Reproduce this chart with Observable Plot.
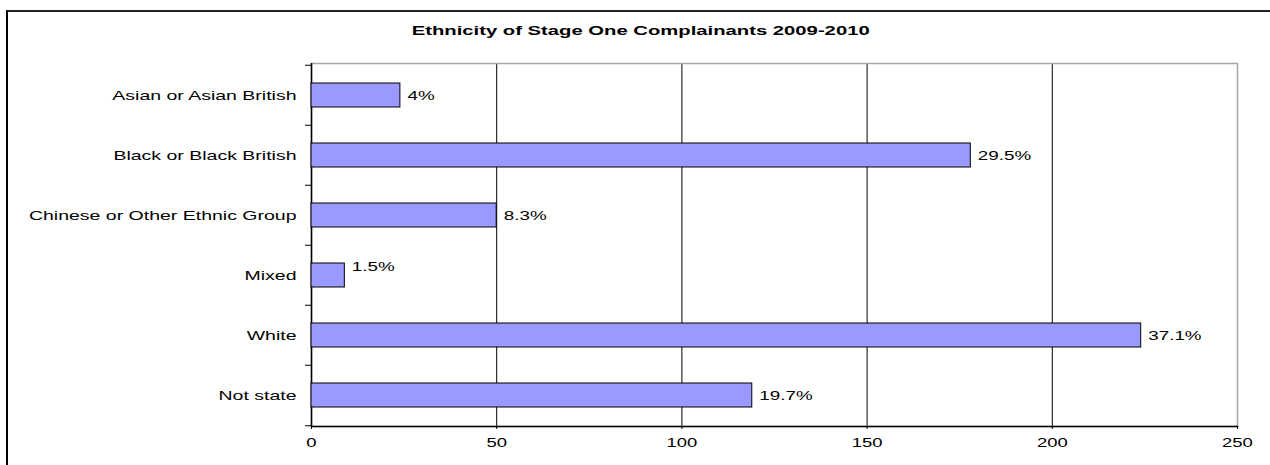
<!DOCTYPE html>
<html>
<head>
<meta charset="utf-8">
<script src="https://cdn.jsdelivr.net/npm/d3@7"></script>
<script src="https://cdn.jsdelivr.net/npm/@observablehq/plot@0.6"></script>
<style>
  html, body { margin: 0; padding: 0; background: white; }
  #wrap { position: relative; width: 1270px; height: 465px; overflow: hidden; font-family: "Liberation Sans", Arial, sans-serif; }
  #border { position: absolute; left: 6px; top: 10px; width: 1400px; height: 600px; border-left: 2px solid #000; border-top: 2px solid #222; }
  #title { position: absolute; left: 6px; width: 1270px; top: 23px; text-align: center; font-weight: bold; font-size: 13.5px; line-height: 16px; color: #000; }
  #title span { display: inline-block; transform: scaleX(1.5); transform-origin: center; }
  #chart { position: absolute; left: 0; top: 0; }
</style>
</head>
<body>
<div id="wrap">
  <div id="border"></div>
  <div id="title"><span>Ethnicity of Stage One Complainants 2009-2010</span></div>
  <div id="chart"></div>
</div>
<script>
const categories = ["Asian or Asian British", "Black or Black British", "Chinese or Other Ethnic Group", "Mixed", "White", "Not state"];
const counts = [24, 178, 50, 9, 224, 119];
const percentLabels = ["4%", "29.5%", "8.3%", "1.5%", "37.1%", "19.7%"];
const xTicks = [0, 50, 100, 150, 200, 250];

const data = categories.map((c, i) => ({category: c, count: counts[i], label: percentLabels[i]}));

const chart = Plot.plot({
  width: 1270,
  height: 465,
  marginTop: 63,
  marginBottom: 39,
  marginLeft: 311,
  marginRight: 33,
  style: {fontFamily: "'Liberation Sans', Arial, sans-serif", fontSize: "13px", background: "transparent", color: "black", overflow: "visible"},
  x: {domain: [0, 250], ticks: xTicks, label: null},
  y: {domain: categories, paddingInner: 0.6, paddingOuter: 0.3, label: null},
  marks: [
    Plot.gridX({ticks: xTicks, stroke: "black", strokeOpacity: 1}),
    Plot.frame({stroke: "#a6a6a6", strokeWidth: 1.5}),
    Plot.ruleX([0], {stroke: "black", strokeWidth: 1.5}),
    Plot.frame({anchor: "bottom", stroke: "black", strokeWidth: 1.5}),
    Plot.axisX({ticks: xTicks, tickSize: 3, tickPadding: 8, label: null, fontSize: 13}),
    Plot.axisY({tickSize: 0, tickPadding: 15, label: null, fontSize: 13}),
    Plot.axisY({ticks: categories, tickSize: 6, text: null, label: null, dy: -30.25}),
    Plot.axisY({ticks: categories.slice(-1), tickSize: 6, text: null, label: null, dy: 30.25}),
    Plot.barX(data, {x: "count", y: "category", fill: "#9999ff", stroke: "black", strokeWidth: 1}),
    Plot.text(data.filter(d => d.category !== "Mixed"), {x: "count", y: "category", text: "label", textAnchor: "start", dx: 7, fontSize: 13, fill: "black"}),
    Plot.text(data.filter(d => d.category === "Mixed"), {x: "count", y: "category", text: "label", textAnchor: "start", dx: 7, dy: -9, fontSize: 13, fill: "black"})
  ]
});

// The reference text is horizontally stretched; stretch each label around its anchor.
function stretch(groupLabel, s) {
  chart.querySelectorAll("g").forEach(g => {
    if (g.getAttribute("aria-label") !== groupLabel) return;
    g.querySelectorAll("text").forEach(el => {
      const x = parseFloat(el.getAttribute("x")) || 0;
      const t = el.getAttribute("transform") || "";
      el.setAttribute("transform", `${t} translate(${x},0) scale(${s},1) translate(${-x},0)`.trim());
    });
  });
}
stretch("y-axis tick label", 1.5);
stretch("x-axis tick label", 1.42);
stretch("text", 1.45);

document.getElementById("chart").appendChild(chart);
</script>
</body>
</html>
